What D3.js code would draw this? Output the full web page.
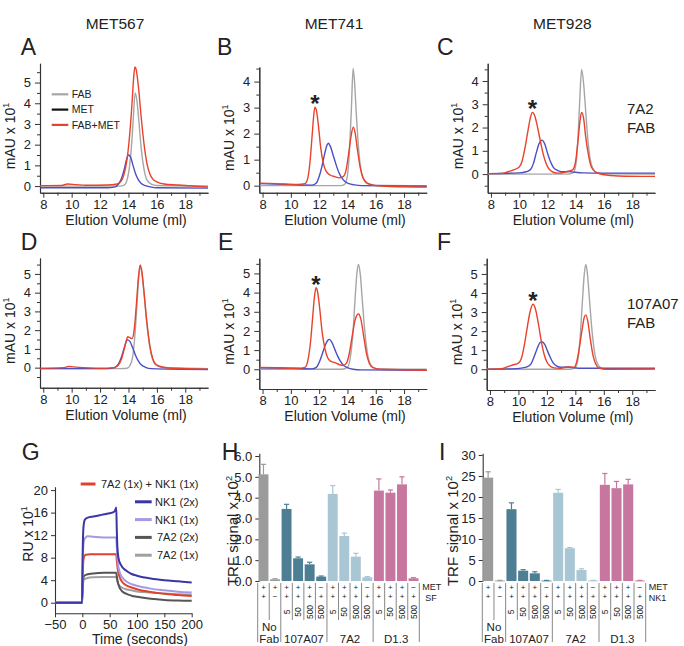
<!DOCTYPE html>
<html><head><meta charset="utf-8">
<script src="https://cdn.jsdelivr.net/npm/d3@7"></script>
<style>
body{margin:0;background:#fff}
svg{display:block}
text{font-family:"Liberation Sans",Arial,sans-serif;fill:#222}
</style>
</head><body>
<svg id="c" width="684" height="646"></svg>
<script>
// ---------------- DATA ----------------
// Size-exclusion chromatograms: [elution volume (ml), mAU x 10^1]
const fabA=[[7.8,0],[13.4,0],[13.7,0.05],[13.9,0.3],[14.1,1.1],[14.25,2.3],[14.35,3.4],[14.47,4.5],[14.6,4.1],[14.75,3.0],[14.9,1.8],[15.1,0.8],[15.3,0.3],[15.6,0.1],[16,0.03],[19.6,0]];
const metA=[[7.8,-0.08],[12.5,-0.08],[13,-0.05],[13.3,0.1],[13.5,0.35],[13.7,0.8],[13.85,1.25],[14.0,1.5],[14.15,1.4],[14.3,1.05],[14.5,0.6],[14.7,0.3],[14.9,0.12],[15.2,0.02],[15.6,-0.05],[16,-0.08],[19.6,-0.1]];
const mixA=[[7.8,0.02],[9.3,0.03],[9.7,0.1],[10.3,0.07],[11,0.04],[12.5,0.05],[13.2,0.1],[13.5,0.25],[13.7,0.6],[13.9,1.3],[14.1,2.6],[14.25,4.0],[14.35,5.1],[14.45,5.75],[14.55,5.6],[14.7,4.8],[14.9,3.3],[15.1,2.0],[15.3,1.1],[15.5,0.6],[15.7,0.35],[16,0.2],[16.5,0.1],[17.5,0.05],[19.6,-0.05]];

const fabB=[[7.8,0],[13.5,0],[13.8,0.05],[14.0,0.4],[14.15,1.4],[14.28,3.0],[14.4,4.5],[14.5,4.0],[14.6,3.0],[14.75,1.7],[14.9,0.8],[15.1,0.3],[15.4,0.08],[16,0.02],[19.6,0]];
const metB=[[7.8,0.08],[10,0.04],[11.5,0.02],[11.8,0.1],[12.0,0.35],[12.2,0.75],[12.4,1.25],[12.55,1.55],[12.65,1.63],[12.8,1.5],[13.0,1.15],[13.2,0.8],[13.4,0.5],[13.6,0.3],[13.8,0.17],[14.1,0.08],[14.5,0.03],[15,0.0],[19.6,-0.02]];
const mixB=[[7.8,0.1],[9,0.08],[10.5,0.05],[11,0.08],[11.2,0.3],[11.35,0.9],[11.5,1.9],[11.6,2.6],[11.7,3.02],[11.8,2.9],[11.95,2.3],[12.1,1.5],[12.3,0.85],[12.5,0.55],[12.8,0.4],[13.1,0.35],[13.4,0.3],[13.7,0.35],[13.9,0.6],[14.05,1.1],[14.2,1.7],[14.3,2.05],[14.42,2.25],[14.55,2.0],[14.7,1.4],[14.9,0.7],[15.1,0.3],[15.4,0.1],[16,0.0],[17,-0.03],[19.6,-0.05]];

const fabC=[[7.8,0],[13.4,0],[13.8,0.05],[14.0,0.4],[14.15,1.5],[14.28,3.2],[14.41,4.5],[14.55,3.9],[14.7,2.7],[14.85,1.5],[15.0,0.7],[15.2,0.25],[15.5,0.06],[16,0.01],[19.6,0]];
const metC=[[7.8,0.02],[10,0.05],[10.5,0.1],[10.8,0.2],[11.0,0.45],[11.2,0.9],[11.4,1.3],[11.59,1.46],[11.8,1.3],[12.0,0.9],[12.2,0.55],[12.4,0.3],[12.7,0.16],[13.0,0.1],[13.5,0.11],[13.9,0.08],[14.5,0.05],[16,0.04],[19.6,0.04]];
const mixC=[[7.8,0.02],[8.8,0.03],[9.2,0.1],[9.6,0.18],[10.0,0.3],[10.2,0.55],[10.4,1.1],[10.6,1.8],[10.8,2.45],[10.93,2.65],[11.1,2.5],[11.3,2.0],[11.5,1.4],[11.7,0.85],[11.9,0.45],[12.1,0.22],[12.4,0.08],[12.8,0.04],[13.2,0.08],[13.5,0.12],[13.8,0.2],[14.0,0.6],[14.15,1.4],[14.3,2.3],[14.41,2.65],[14.55,2.4],[14.7,1.6],[14.9,0.8],[15.1,0.3],[15.4,0.08],[16,-0.03],[17,-0.08],[19.6,-0.1]];

const fabD=[[7.8,-0.05],[13.5,-0.05],[13.9,-0.03],[14.1,0.1],[14.3,0.6],[14.45,1.7],[14.6,3.4],[14.72,4.8],[14.82,5.4],[14.95,5.0],[15.1,3.9],[15.3,2.3],[15.5,1.1],[15.7,0.45],[15.9,0.15],[16.3,0.02],[19.6,-0.05]];
const metD=[[7.8,-0.05],[12.5,-0.05],[13.0,0.0],[13.3,0.2],[13.5,0.55],[13.7,1.05],[13.93,1.48],[14.1,1.4],[14.3,1.05],[14.5,0.65],[14.7,0.35],[14.9,0.15],[15.2,0.02],[15.6,-0.05],[19.6,-0.1]];
const mixD=[[7.8,-0.03],[9.4,0],[9.8,0.06],[10.3,0.03],[12,-0.03],[13,0],[13.3,0.15],[13.5,0.45],[13.7,1.0],[13.85,1.45],[13.95,1.65],[14.1,1.6],[14.25,1.55],[14.4,2.0],[14.55,3.3],[14.7,4.8],[14.82,5.48],[14.95,5.1],[15.1,4.0],[15.3,2.4],[15.5,1.2],[15.7,0.5],[15.9,0.2],[16.3,0.05],[17,-0.03],[19.6,-0.08]];

const fabE=[[7.8,0],[13.6,0],[14.0,0.1],[14.2,0.6],[14.4,2.0],[14.55,3.8],[14.68,5.1],[14.78,5.47],[14.9,5.0],[15.05,3.6],[15.2,2.2],[15.4,0.9],[15.6,0.3],[15.9,0.06],[16.3,0.01],[19.6,0]];
const metE=[[7.8,0.08],[10,0.05],[11.5,0.02],[11.8,0.1],[12.0,0.35],[12.2,0.75],[12.4,1.2],[12.6,1.5],[12.73,1.56],[12.9,1.4],[13.1,1.05],[13.3,0.7],[13.5,0.42],[13.7,0.22],[14.0,0.08],[14.4,0.0],[15,-0.03],[19.6,-0.05]];
const mixE=[[7.8,0.1],[9,0.08],[10.5,0.05],[11.0,0.1],[11.2,0.45],[11.4,1.5],[11.55,2.8],[11.67,3.8],[11.78,4.25],[11.9,4.0],[12.05,3.1],[12.2,2.0],[12.4,1.1],[12.6,0.6],[12.8,0.42],[13.1,0.35],[13.4,0.25],[13.7,0.2],[13.95,0.35],[14.15,0.9],[14.35,1.8],[14.55,2.6],[14.78,2.88],[14.95,2.6],[15.15,1.7],[15.35,0.8],[15.55,0.3],[15.8,0.08],[16.3,0],[19.6,-0.05]];

const fabF=[[7.8,0],[13.6,0],[14.0,0.1],[14.2,0.6],[14.35,1.8],[14.5,3.6],[14.63,5.0],[14.74,5.5],[14.85,5.0],[15.0,3.6],[15.15,2.2],[15.35,0.9],[15.55,0.3],[15.85,0.05],[16.3,0],[19.6,0]];
const metF=[[7.8,0.0],[9.5,0.02],[10.2,0.06],[10.6,0.12],[10.9,0.3],[11.1,0.65],[11.3,1.05],[11.5,1.38],[11.65,1.45],[11.85,1.3],[12.05,0.95],[12.25,0.6],[12.45,0.32],[12.7,0.16],[13.0,0.1],[13.5,0.12],[13.9,0.08],[14.5,0.05],[16,0.05],[19.6,0.05]];
const mixF=[[7.8,0],[8.8,0.03],[9.2,0.12],[9.6,0.22],[10.0,0.32],[10.2,0.55],[10.4,1.2],[10.6,2.1],[10.8,2.95],[11.02,3.41],[11.2,3.15],[11.4,2.4],[11.6,1.5],[11.8,0.8],[12.0,0.38],[12.2,0.18],[12.5,0.07],[12.9,0.05],[13.3,0.1],[13.6,0.12],[13.9,0.1],[14.1,0.4],[14.3,1.2],[14.5,2.2],[14.62,2.7],[14.74,2.85],[14.88,2.5],[15.05,1.6],[15.25,0.7],[15.45,0.25],[15.7,0.05],[16.2,0],[19.6,0.02]];

const chromTitles=["MET567","MET741","MET928"];
const chromLegend=["FAB","MET","FAB+MET"];
const xMajorTicks=[8,10,12,14,16,18];
const xMinorTicks=[9,11,13,15,17,19];

// SPR sensorgrams: [time (s), RU x 10^1]
const sprMix=[[-50,0],[-0.5,0],[0.5,4.5],[1.5,7],[3,8.1],[6,8.5],[15,8.6],[40,8.6],[62,8.6],[63,7.5],[65,5.8],[68,4.6],[72,3.8],[80,3.1],[90,2.7],[100,2.4],[125,1.9],[150,1.6],[175,1.35],[200,1.2]];
const sprNK1x2=[[-50,0],[-0.5,0],[0.5,8],[1.5,12.5],[3,14.2],[5,14.8],[10,15.1],[20,15.3],[30,15.5],[40,15.7],[50,15.9],[57,16.1],[60,16.4],[62,16.9],[63,13],[64,10],[66,8],[70,6.8],[80,5.7],[90,5.1],[100,4.8],[125,4.3],[150,4.0],[175,3.8],[200,3.6]];
const sprNK1x1=[[-50,0],[-0.5,0],[0.5,6],[1.5,9.5],[3,11.0],[6,11.6],[10,11.8],[20,11.7],[40,11.6],[62,11.6],[63,10],[65,7],[68,5.5],[72,4.6],[80,3.8],[90,3.3],[100,3.0],[125,2.5],[150,2.2],[175,1.95],[200,1.8]];
const spr7A2x2=[[-50,0],[-0.5,0],[0.5,2.8],[1.5,4.2],[3,4.7],[8,5.0],[20,5.2],[40,5.3],[62,5.3],[63,4.7],[65,3.6],[68,2.7],[72,2.1],[80,1.6],[90,1.25],[100,1.05],[125,0.7],[150,0.5],[175,0.4],[200,0.35]];
const spr7A2x1=[[-50,0],[-0.5,0],[0.5,2.4],[1.5,3.6],[3,4.1],[8,4.35],[20,4.5],[40,4.55],[62,4.55],[63,4.2],[65,3.5],[68,3.0],[72,2.7],[80,2.4],[90,2.2],[100,2.0],[125,1.8],[150,1.65],[175,1.5],[200,1.45]];
const sprNames=["7A2 (1x) + NK1 (1x)","NK1 (2x)","NK1 (1x)","7A2 (2x)","7A2 (1x)"];
const sprYTicks=[0,4,8,12,16,20];
const sprXTicks=[-50,0,50,100,150,200];

// TRF competition assays
const hVals=[5.12,0.08,3.46,1.09,0.8,0.21,4.18,2.16,1.17,0.18,4.34,4.24,4.64,0.13];
const hErr=[0.48,0.03,0.22,0.06,0.1,0.03,0.4,0.14,0.16,0.03,0.56,0.13,0.36,0.03];
const iVals=[24.6,0.1,17.1,2.45,1.83,0.1,21.0,7.8,2.6,0.1,22.9,22.1,23.0,0.1];
const iErr=[1.4,0.05,1.5,0.25,0.37,0.05,0.8,0.15,0.3,0.05,2.7,1.6,1.2,0.05];
const metRow=["+","+","+","+","+","−","+","+","+","−","+","+","+","−"];
const ligandRow=["+","−","+","+","+","+","+","+","+","+","+","+","+","+"];
const fabConc=["","","5","50","500","500","5","50","500","500","5","50","500","500"];
const barGroup=[0,0,1,1,1,1,2,2,2,2,3,3,3,3];
const groupNames=[["No","Fab"],["107A07"],["7A2"],["D1.3"]];
const hTicks=[0,1,2,3,4,5,6];
const iTicks=[0,5,10,15,20,25,30];

// ---------------- DRAW ----------------
const svg=d3.select("#c");
const FONT='"Liberation Sans",Arial,sans-serif';
const AX="#333";
const C_GRAY="#a6a6a6", C_BLUE="#4b4fc4", C_RED="#e8422c";

function styleAxis(sel,fs){
  sel.attr("font-family",FONT).attr("font-size",fs);
  sel.select(".domain").attr("stroke",AX).attr("stroke-width",1.1);
  sel.selectAll(".tick line").attr("stroke",AX).attr("stroke-width",1);
  sel.selectAll(".tick text").attr("fill","#222");
}
function supLabel(g,x,y,main,sup,fs,rot){
  const t=g.append("text").attr("transform",`translate(${x},${y}) rotate(${rot})`)
    .attr("text-anchor","middle").attr("font-size",fs);
  t.append("tspan").text(main);
  t.append("tspan").attr("font-size",fs*0.62).attr("dy",-fs*0.42).text(sup);
  return t;
}
function letter(x,y,s){svg.append("text").attr("x",x).attr("y",y).attr("font-size",23).attr("fill","#111").text(s);}

const xDomain=[7.77,19.6];
const chromLayout=[
 {L:"A",x0:40,x1:208,yt:63.3,yb:192.7,yd:[-0.32,5.93],ymax:5,d:[fabA,metA,mixA],lx:20.7,ly:55},
 {L:"B",x0:259.3,x1:426.7,yt:67,yb:192.7,yd:[-0.27,4.56],ymax:4,d:[fabB,metB,mixB],lx:217,ly:55,star:true},
 {L:"C",x0:487.7,x1:655,yt:63.3,yb:192.7,yd:[-0.8,4.76],ymax:4,d:[fabC,metC,mixC],lx:437,ly:55,star:true,note:["7A2","FAB"],ny:113.5},
 {L:"D",x0:40,x1:208,yt:258,yb:387.7,yd:[-1.07,5.85],ymax:5,d:[fabD,metD,mixD],lx:20.7,ly:250},
 {L:"E",x0:259.3,x1:426.7,yt:258.3,yb:389,yd:[-1.03,5.79],ymax:5,d:[fabE,metE,mixE],lx:218,ly:250,star:true},
 {L:"F",x0:486.7,x1:655,yt:258.3,yb:390,yd:[-1.09,5.82],ymax:5,d:[fabF,metF,mixF],lx:437,ly:250,star:true,note:["107A07","FAB"],ny:309}
];
const lineColors=[C_GRAY,C_BLUE,C_RED];

chromLayout.forEach((p,i)=>{
  const g=svg.append("g");
  const x=d3.scaleLinear().domain(xDomain).range([p.x0,p.x1]);
  const y=d3.scaleLinear().domain(p.yd).range([p.yb,p.yt]);
  g.append("g").attr("transform",`translate(0,${p.yb})`)
    .call(d3.axisBottom(x).tickValues(xMinorTicks.filter(v=>v<=xDomain[1])).tickSize(3).tickSizeOuter(0).tickFormat(""))
    .call(s=>styleAxis(s,13));
  g.append("g").attr("transform",`translate(0,${p.yb})`)
    .call(d3.axisBottom(x).tickValues(xMajorTicks).tickSize(5).tickSizeOuter(0).tickPadding(2))
    .call(s=>styleAxis(s,13));
  const yMajor=d3.range(0,p.ymax+1);
  const yMinor=d3.range(Math.ceil(p.yd[0]*2)/2,p.yd[1],0.5).filter(v=>Math.abs(v-Math.round(v))>0.01);
  g.append("g").attr("transform",`translate(${p.x0},0)`)
    .call(d3.axisLeft(y).tickValues(yMinor).tickSize(3).tickSizeOuter(0).tickFormat(""))
    .call(s=>styleAxis(s,13));
  g.append("g").attr("transform",`translate(${p.x0},0)`)
    .call(d3.axisLeft(y).tickValues(yMajor).tickSize(5).tickSizeOuter(0).tickPadding(4).tickFormat(d3.format("d")))
    .call(s=>styleAxis(s,13));
  g.append("text").attr("x",(p.x0+p.x1)/2+2).attr("y",p.yb+32).attr("text-anchor","middle")
    .attr("font-size",14).text("Elution Volume (ml)");
  supLabel(g,p.x0-25,(p.yt+p.yb)/2+8,"mAU x 10","1",14,-90);
  letter(p.lx,p.ly,p.L);
  if(i<3){
    g.append("text").attr("x",(p.x0+p.x1)/2-9).attr("y",29).attr("text-anchor","middle")
      .attr("font-size",15.5).text(chromTitles[i]);
  }
  const line=d3.line().x(d=>x(d[0])).y(d=>y(d[1])).curve(d3.curveMonotoneX);
  p.d.forEach((s,k)=>{
    g.append("path").datum(s).attr("d",line).attr("fill","none")
      .attr("stroke",lineColors[k]).attr("stroke-width",1.4).attr("stroke-linejoin","round");
  });
  if(p.star){
    const pk=d3.greatest(p.d[2].filter(d=>d[0]<13),d=>d[1]);
    g.append("text").attr("x",x(pk[0])).attr("y",y(pk[1])+5).attr("text-anchor","middle")
      .attr("font-size",24).attr("font-weight","bold").attr("fill","#222").text("*");
  }
  if(p.note){
    p.note.forEach((t,j)=>g.append("text").attr("x",627).attr("y",p.ny+j*19)
      .attr("font-size",15).text(t));
  }
  if(i===0){
    const lg=g.append("g");
    const lc=[C_GRAY,"#111",C_RED];
    chromLegend.forEach((t,j)=>{
      const yy=94.3+j*15.3;
      lg.append("line").attr("x1",51.7).attr("x2",68.3).attr("y1",yy).attr("y2",yy)
        .attr("stroke",lc[j]).attr("stroke-width",2.2);
      lg.append("text").attr("x",71.7).attr("y",yy+3.8).attr("font-size",10.5).text(t);
    });
  }
});

// ---- Panel G: SPR ----
(function(){
  const g=svg.append("g");
  const x=d3.scaleLinear().domain([-50,200]).range([55,191.7]);
  const y=d3.scaleLinear().domain([-1.88,20.6]).range([613.3,486.7]);
  g.append("g").attr("transform","translate(0,613.3)")
    .call(d3.axisBottom(x).tickValues(sprXTicks).tickSize(4).tickSizeOuter(0).tickPadding(2))
    .call(s=>styleAxis(s,13));
  g.append("g").attr("transform","translate(55,0)")
    .call(d3.axisLeft(y).tickValues(sprYTicks).tickSize(4).tickSizeOuter(0).tickPadding(3))
    .call(s=>styleAxis(s,13));
  g.append("text").attr("x",140).attr("y",644).attr("text-anchor","middle").attr("font-size",14).text("Time (seconds)");
  supLabel(g,33,534,"RU x 10","1",14,-90);
  letter(21.7,460,"G");
  const series=[sprMix,sprNK1x2,sprNK1x1,spr7A2x2,spr7A2x1];
  const cols=["#e0412c","#3a36a6","#a29be3","#555555","#a0a0a0"];
  const order=[4,3,0,2,1];
  const line=d3.line().x(d=>x(d[0])).y(d=>y(d[1])).curve(d3.curveMonotoneX);
  order.forEach(k=>{
    g.append("path").datum(series[k]).attr("d",line).attr("fill","none")
      .attr("stroke",cols[k]).attr("stroke-width",2).attr("stroke-linejoin","round");
  });
  sprNames.forEach((t,j)=>{
    const yy=484+j*17.8;
    const lx1=j===0?80.7:135, lx2=j===0?95.5:151.7;
    g.append("line").attr("x1",lx1).attr("x2",lx2).attr("y1",yy).attr("y2",yy)
      .attr("stroke",cols[j]).attr("stroke-width",3);
    g.append("text").attr("x",198.5).attr("y",yy+4).attr("text-anchor","end").attr("font-size",11).text(t);
  });
})();

// ---- Panels H, I: bars ----
const groupColors=["#9b9b9b","#4e7e93","#a9c6d4","#c7779f"];
function barPanel(cfg){
  const g=svg.append("g");
  const xb=d3.scaleBand().domain(d3.range(cfg.vals.length)).range([cfg.x0,cfg.x1]).padding(0);
  const y=d3.scaleLinear().domain(cfg.yd).range([581,453.3]);
  g.append("g").attr("transform",`translate(${cfg.ax},0)`)
    .call(d3.axisLeft(y).tickValues(cfg.ticks).tickSize(4).tickSizeOuter(0).tickPadding(3))
    .call(s=>styleAxis(s,13));
  supLabel(g,cfg.labX,531,"TRF signal x 10","2",15,-90);
  const bw=xb.bandwidth();
  cfg.vals.forEach((v,i)=>{
    const c=groupColors[barGroup[i]];
    const cx=xb(i)+bw/2;
    g.append("rect").attr("x",xb(i)+0.8).attr("width",bw-1.6)
      .attr("y",y(v)).attr("height",Math.max(0.8,y(0)-y(v))).attr("fill",c);
    const top=y(v+cfg.err[i]);
    g.append("line").attr("x1",cx).attr("x2",cx).attr("y1",y(v)).attr("y2",top).attr("stroke",c).attr("stroke-width",1.2);
    g.append("line").attr("x1",cx-2.6).attr("x2",cx+2.6).attr("y1",top).attr("y2",top).attr("stroke",c).attr("stroke-width",1.2);
    g.append("text").attr("x",cx).attr("y",587).attr("dy","0.35em").attr("text-anchor","middle")
      .attr("font-size",8).attr("fill","#666").text(metRow[i]);
    g.append("text").attr("x",cx).attr("y",596.5).attr("dy","0.35em").attr("text-anchor","middle")
      .attr("font-size",8).attr("fill","#666").text(ligandRow[i]);
    if(fabConc[i]) g.append("text").attr("transform",`translate(${cx+3},612) rotate(-90)`)
      .attr("text-anchor","middle").attr("font-size",8.5).attr("fill","#555").text(fabConc[i]);
  });
  for(let i=0;i<=cfg.vals.length;i++){
    const xx=i<cfg.vals.length?xb(i):cfg.x1;
    const isGroup=i===0||i===cfg.vals.length||barGroup[i]!==barGroup[i-1];
    g.append("line").attr("x1",xx).attr("x2",xx).attr("y1",583).attr("y2",isGroup?642:620)
      .attr("stroke","#888").attr("stroke-width",1);
  }
  groupNames.forEach((nm,gi)=>{
    const idx=d3.range(cfg.vals.length).filter(i=>barGroup[i]===gi);
    const cx=(xb(idx[0])+xb(idx[idx.length-1])+bw)/2;
    nm.forEach((t,j)=>{
      g.append("text").attr("x",cx).attr("y",643-(nm.length-1-j)*12.5).attr("text-anchor","middle")
        .attr("font-size",11.5).text(t);
    });
  });
  g.append("text").attr("x",cfg.x1+3).attr("y",587).attr("dy","0.35em").attr("font-size",9).attr("fill","#333").text("MET");
  g.append("text").attr("x",cfg.x1+(cfg.lig==="SF"?6:3)).attr("y",598).attr("dy","0.35em").attr("font-size",9).attr("fill","#333").text(cfg.lig);
  letter(cfg.lx,460,cfg.L);
}
barPanel({L:"H",lx:221.7,x0:257.7,x1:419.3,ax:259.3,yd:[0,6.13],ticks:hTicks,vals:hVals,err:hErr,labX:238,lig:"SF"});
barPanel({L:"I",lx:439,x0:482.3,x1:645.7,ax:482.7,yd:[0,30.4],ticks:iTicks,vals:iVals,err:iErr,labX:458,lig:"NK1"});
</script>
</body></html>
